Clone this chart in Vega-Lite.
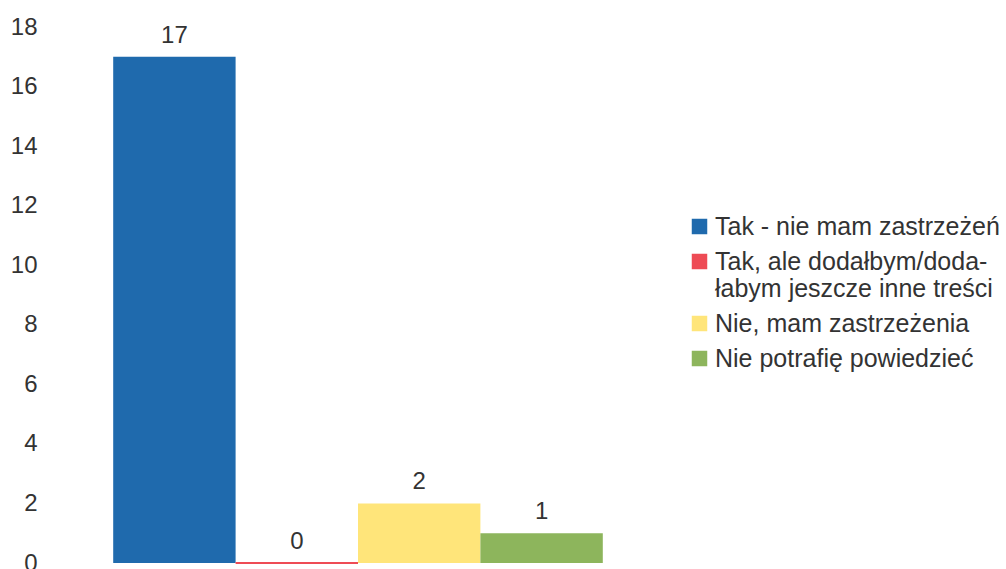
{
  "$schema": "https://vega.github.io/schema/vega-lite/v6.json",
  "autosize": "none",
  "width": 612,
  "height": 536,
  "padding": {"left": 52, "top": 27, "right": 342, "bottom": 6},
  "background": "white",
  "config": {
    "view": {"stroke": null},
    "font": "Liberation Sans",
    "text": {"font": "Liberation Sans"}
  },
  "data": {
    "values": [
      {"cat": "Tak - nie mam zastrzeżeń", "value": 17},
      {"cat": "Tak, ale dodałbym/doda-\nłabym jeszcze inne treści", "value": 0},
      {"cat": "Nie, mam zastrzeżenia", "value": 2},
      {"cat": "Nie potrafię powiedzieć", "value": 1}
    ]
  },
  "encoding": {
    "x": {"field": "cat", "type": "nominal", "sort": null, "axis": null,
          "scale": {"paddingInner": 0, "paddingOuter": 0.5}},
    "y": {"field": "value", "type": "quantitative",
          "scale": {"domain": [0, 18], "nice": false},
          "axis": {"values": [0, 2, 4, 6, 8, 10, 12, 14, 16, 18], "title": null, "grid": false,
                   "domain": false, "ticks": false, "labelPadding": 15, "labelFontSize": 24,
                   "labelColor": "#333333", "labelFont": "Liberation Sans"}}
  },
  "layer": [
    {
      "mark": {"type": "bar"},
      "encoding": {
        "color": {"field": "cat", "type": "nominal", "sort": null,
          "scale": {"range": ["#1f6aad", "#ee4b55", "#ffe57a", "#8db55c"]},
          "legend": {"title": null, "orient": "none", "legendX": 635, "legendY": 187,
                     "symbolType": "square", "symbolSize": 240, "symbolStrokeWidth": 0,
                     "labelFontSize": 25, "labelColor": "#333333", "labelFont": "Liberation Sans",
                     "labelOffset": 3, "rowPadding": 9, "labelLimit": 400,
                     "labelExpr": "split(datum.label, '\\n')"}},
        "stroke": {"field": "cat", "type": "nominal", "sort": null, "legend": null,
          "scale": {"range": ["#1f6aad", "#ee4b55", "#ffe57a", "#8db55c"]}},
        "strokeWidth": {"condition": {"test": "datum.value == 0", "value": 2}, "value": 0}
      }
    },
    {
      "mark": {"type": "text", "baseline": "alphabetic", "dy": -14, "fontSize": 24,
               "color": "#333333", "font": "Liberation Sans"},
      "encoding": {"text": {"field": "value", "type": "quantitative"}}
    }
  ]
}
